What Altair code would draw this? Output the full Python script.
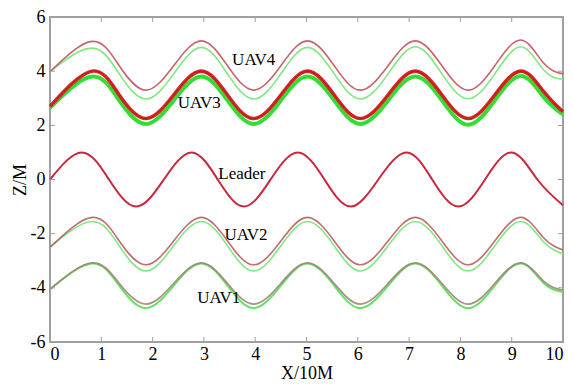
import altair as alt
import pandas as pd

# ---- data (knots at extrema / mid-crossings) ----
leader_x = [0, 0.62, 1.15, 1.68, 2.22, 2.76, 3.27, 3.78, 4.30, 4.83, 5.35, 5.86, 6.40, 6.95, 7.45, 7.96, 8.48, 9.0, 9.5, 10.0]
leader_z = [0, 1, 0, -1, 0, 1, 0, -1, 0, 1, 0, -1, 0, 1, 0, -1, 0, 1, 0, -0.95]

uav_x = [0, 0.82, 1.35, 1.87, 2.41, 2.95, 3.46, 3.97, 4.50, 5.02, 5.54, 6.05, 6.59, 7.12, 7.64, 8.15, 8.67, 9.18, 9.62, 10.0]

uav4_red   = [3.98, 5.10, 4.20, 3.30, 4.20, 5.12, 4.20, 3.30, 4.20, 5.12, 4.20, 3.30, 4.20, 5.12, 4.20, 3.30, 4.20, 5.15, 4.30, 3.90]
uav4_green = [3.98, 4.85, 3.90, 2.97, 3.90, 4.88, 3.90, 2.97, 3.90, 4.88, 3.90, 2.97, 3.90, 4.90, 3.90, 2.98, 3.90, 4.90, 4.05, 3.70]
uav3_red   = [2.70, 4.00, 3.12, 2.25, 3.12, 4.00, 3.12, 2.25, 3.12, 4.00, 3.12, 2.25, 3.12, 4.00, 3.12, 2.25, 3.12, 4.00, 3.25, 2.50]
uav3_green = [2.65, 3.80, 2.92, 2.05, 2.92, 3.80, 2.92, 2.05, 2.92, 3.80, 2.92, 2.05, 2.92, 3.80, 2.92, 2.02, 2.92, 3.82, 3.05, 2.40]
uav2_red   = [-2.50, -1.40, -2.27, -3.15, -2.27, -1.40, -2.27, -3.15, -2.27, -1.40, -2.27, -3.15, -2.27, -1.40, -2.27, -3.15, -2.27, -1.40, -2.15, -2.60]
uav2_green = [-2.50, -1.55, -2.45, -3.38, -2.45, -1.55, -2.45, -3.38, -2.45, -1.55, -2.45, -3.38, -2.45, -1.55, -2.45, -3.38, -2.45, -1.55, -2.30, -2.75]
uav1_red   = [-4.05, -3.08, -3.84, -4.60, -3.84, -3.08, -3.84, -4.60, -3.84, -3.08, -3.84, -4.60, -3.84, -3.08, -3.84, -4.60, -3.84, -3.08, -3.75, -4.09]
uav1_green = [-4.05, -3.10, -3.92, -4.75, -3.92, -3.10, -3.92, -4.75, -3.92, -3.10, -3.92, -4.75, -3.92, -3.10, -3.92, -4.75, -3.92, -3.10, -3.82, -4.15]

label_text = ["UAV4", "UAV3", "Leader", "UAV2", "UAV1"]
label_x = [3.97, 2.91, 3.74, 3.82, 3.29]
label_z = [4.42, 2.81, 0.20, -2.04, -4.39]

x_ticks = [0, 1, 2, 3, 4, 5, 6, 7, 8, 9, 10]
z_ticks = [-6, -4, -2, 0, 2, 4, 6]
inner_x_ticks = [1, 2, 3, 4, 5, 6, 7, 8, 9]
inner_z_ticks = [-4, -2, 0, 2, 4]

W, H = 513, 325
FONT = "Times New Roman, Liberation Serif, serif"
FRAME = "#a0a0a0"

xs = alt.Scale(domain=[0, 10], nice=False)
zs = alt.Scale(domain=[-6, 6], nice=False)

x_axis = alt.Axis(values=x_ticks, grid=False, domain=False, ticks=False, tickSize=0,
                  labelExpr="'' + datum.value",
                  labelPadding=3, labelFont=FONT, labelFontSize=18, labelColor="black",
                  title="X/10M", titleFont=FONT, titleFontSize=18, titleFontWeight="normal",
                  titleColor="black", titlePadding=1)
z_axis = alt.Axis(values=z_ticks, grid=False, domain=False, ticks=False, tickSize=0,
                  labelExpr="'' + datum.value",
                  labelPadding=5, labelFont=FONT, labelFontSize=18, labelColor="black",
                  title="Z/M", titleFont=FONT, titleFontSize=18, titleFontWeight="normal",
                  titleColor="black", titleX=-21, titleBaseline="bottom")

XE = dict(field="x", type="quantitative", scale=xs, axis=x_axis)
ZE = dict(field="z", type="quantitative", scale=zs, axis=z_axis)


def curve(xv, zv, color, width, opacity=1.0):
    df = pd.DataFrame({"x": xv, "z": zv})
    return alt.Chart(df).mark_line(color=color, strokeWidth=width, opacity=opacity,
                                   interpolate="natural").encode(
        x=alt.X(**XE), y=alt.Y(**ZE))


layers = [
    curve(uav_x, uav4_green, "#7fe87f", 1.6),
    curve(uav_x, uav2_green, "#7fe87f", 1.6),
    curve(uav_x, uav1_green, "#66e066", 2.0),
    curve(uav_x, uav3_green, "#33dd33", 4.0),
    curve(uav_x, uav4_red, "#c4505e", 1.6, 0.9),
    curve(uav_x, uav2_red, "#b8505c", 1.6, 0.85),
    curve(uav_x, uav1_red, "#a08578", 1.8, 0.9),
    curve(uav_x, uav3_red, "#e02222", 3.6),
    curve(uav_x, uav3_red, "#8a2a2a", 1.0, 0.8),
    curve(leader_x, leader_z, "#c8283e", 2.0),
]

labels = alt.Chart(pd.DataFrame({"t": label_text, "x": label_x, "z": label_z})).mark_text(
    font=FONT, fontSize=17, color="black", align="center", baseline="middle"
).encode(x=alt.X(**XE), y=alt.Y(**ZE), text="t:N")

xt = pd.DataFrame({"x": inner_x_ticks})
zt = pd.DataFrame({"z": inner_z_ticks})
tick_bottom = alt.Chart(xt).mark_rule(color=FRAME, strokeWidth=1).encode(
    x=alt.X(**XE), y=alt.value(H), y2=alt.value(H - 5))
tick_top = alt.Chart(xt).mark_rule(color=FRAME, strokeWidth=1).encode(
    x=alt.X(**XE), y=alt.value(0), y2=alt.value(5))
tick_left = alt.Chart(zt).mark_rule(color=FRAME, strokeWidth=1).encode(
    y=alt.Y(**ZE), x=alt.value(0), x2=alt.value(5))
tick_right = alt.Chart(zt).mark_rule(color=FRAME, strokeWidth=1).encode(
    y=alt.Y(**ZE), x=alt.value(W), x2=alt.value(W - 5))

chart = alt.layer(*layers, labels, tick_bottom, tick_top, tick_left, tick_right).properties(
    width=W, height=H,
    autosize=alt.AutoSizeParams(type="none"),
    padding={"left": 42, "top": 9, "right": 3, "bottom": 40},
    background="white",
).configure_view(stroke=FRAME, strokeWidth=2)

chart.save("out.html", embed_options={"renderer": "svg", "actions": False})
